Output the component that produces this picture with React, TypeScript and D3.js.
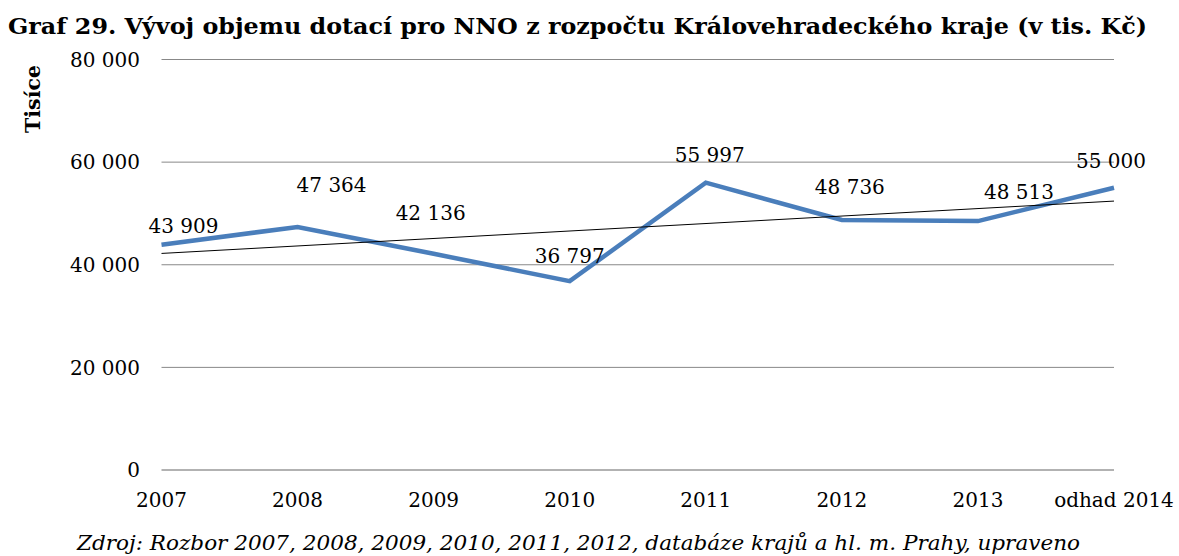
import React from "react";
import * as d3 from "d3";

const categories = ["2007", "2008", "2009", "2010", "2011", "2012", "2013", "odhad 2014"];
const values = [43909, 47364, 42136, 36797, 55997, 48736, 48513, 55000];
const yTicks = [0, 20000, 40000, 60000, 80000];
// manual label nudges (as placed in the original chart), in px
const labelDx = [22, 34, -3, 0, 4, 8, 41, -3];
const labelDy = [-12, -35, -34, -18.5, -21, -26, -22, -20];

const titleText = "Graf 29. Vývoj objemu dotací pro NNO z rozpočtu Královehradeckého kraje (v tis. Kč)";
const sourceText = "Zdroj: Rozbor 2007, 2008, 2009, 2010, 2011, 2012, databáze krajů a hl. m. Prahy, upraveno";
const yTitle = "Tisíce";

const W = 1179;
const H = 556;
const left = 161.5;
const right = 1114;
const top = 59.5;
const bottom = 470;

const fmt = d3.formatLocale({ decimal: ",", thousands: " ", grouping: [3], currency: ["", " Kč"] }).format(",d");

export default function App() {
  const x = d3.scalePoint<string>().domain(categories).range([left, right]);
  const y = d3.scaleLinear().domain([0, 80000]).range([bottom, top]);

  const pts = values.map((v, i) => [x(categories[i]) as number, y(v)] as [number, number]);
  const line = d3.line();

  // linear trendline (least squares)
  const n = values.length;
  const xm = d3.mean(values.map((_, i) => i)) as number;
  const ym = d3.mean(values) as number;
  const sxy = d3.sum(values.map((v, i) => (i - xm) * (v - ym)));
  const sxx = d3.sum(values.map((_, i) => (i - xm) * (i - xm)));
  const slope = sxy / sxx;
  const icpt = ym - slope * xm;
  const trend: [number, number][] = [
    [x(categories[0]) as number, y(icpt)],
    [x(categories[n - 1]) as number, y(icpt + slope * (n - 1))],
  ];

  const serif = "'DejaVu Serif', serif";

  return (
    <svg width={W} height={H} style={{ position: "absolute", left: 0, top: 0, background: "#fff" }}>
      <rect width={W} height={H} fill="#fff" />
      <text x={8} y={34} fontFamily={serif} fontWeight="bold" fontSize={22.5} textLength={1139} lengthAdjust="spacingAndGlyphs" fill="#000">
        {titleText}
      </text>

      {yTicks.map((t) => (
        <g key={t}>
          <line x1={left} x2={right} y1={y(t)} y2={y(t)} stroke={t === 0 ? "#999" : "#888"} strokeWidth={t === 0 ? 1.5 : 1} />
          <text x={140} y={y(t) + 7.3} textAnchor="end" fontFamily={serif} fontSize={20} fill="#000">
            {fmt(t)}
          </text>
        </g>
      ))}

      <text transform={`translate(40,99) rotate(-90)`} textAnchor="middle" fontFamily={serif} fontWeight="bold" fontSize={20.5} fill="#000">
        {yTitle}
      </text>

      {categories.map((c) => (
        <text key={c} x={x(c) as number} y={506.7} textAnchor="middle" fontFamily={serif} fontSize={20} fill="#000">
          {c}
        </text>
      ))}

      <path d={line(pts) || ""} fill="none" stroke="#4a7ebb" strokeWidth={4.5} strokeLinejoin="miter" />
      <path d={line(trend) || ""} fill="none" stroke="#000" strokeWidth={1} />

      {values.map((v, i) => (
        <text key={i} x={pts[i][0] + labelDx[i]} y={pts[i][1] + labelDy[i]} textAnchor="middle" fontFamily={serif} fontSize={20} fill="#000">
          {fmt(v)}
        </text>
      ))}

      <text x={77} y={550} fontFamily={serif} fontStyle="italic" fontSize={21} textLength={1003} lengthAdjust="spacingAndGlyphs" fill="#000">
        {sourceText}
      </text>
    </svg>
  );
}
